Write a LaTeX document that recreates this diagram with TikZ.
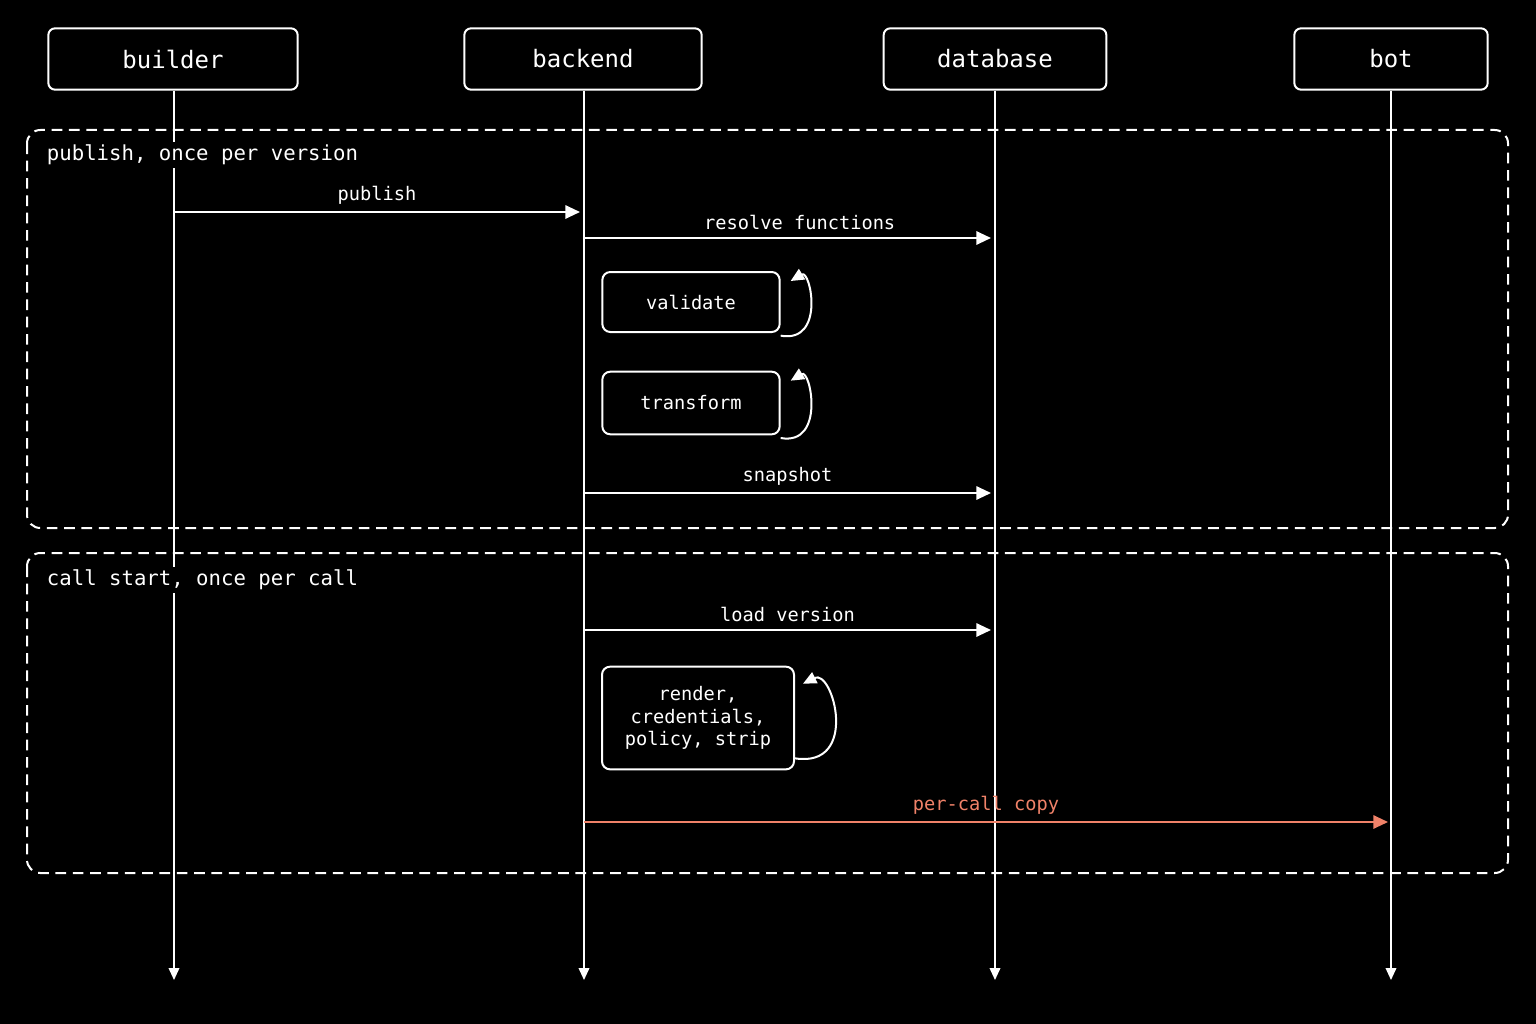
\documentclass[tikz,border=0pt]{standalone}
\usepackage{fontspec}
\setmonofont{DejaVu Sans Mono}
\usetikzlibrary{arrows.meta,calc}
\definecolor{salmon}{RGB}{240,130,105}
\begin{document}
\begin{tikzpicture}[x=0.75pt,y=-0.75pt,
  every node/.style={text=white,font=\ttfamily},
  actor/.style={draw=white,line width=1.5pt,rounded corners=5pt,minimum height=46pt,font=\ttfamily\fontsize{18}{20}\selectfont},
  life/.style={draw=white,line width=1.2pt,-{Triangle[length=9pt,width=8pt]}},
  msg/.style={draw=white,line width=1.5pt,-{Triangle[length=11pt,width=10pt]}},
  mlab/.style={font=\ttfamily\fontsize{14}{16}\selectfont,anchor=south},
  grp/.style={draw=white,line width=1.5pt,dashed,dash pattern=on 8pt off 5pt,rounded corners=10pt},
  glab/.style={font=\ttfamily\fontsize{15.5}{18}\selectfont,anchor=west,fill=black,inner sep=2pt},
  act/.style={draw=white,fill=black,line width=1.5pt,rounded corners=6pt,align=center,font=\ttfamily\fontsize{14}{17}\selectfont},
  loopa/.style={draw=white,line width=1.5pt,-{Triangle[length=10pt,width=9pt]}}]
\fill[black] (0,0) rectangle (1536,1024);
\node[actor,minimum width=187pt] (builder) at (173,59) {builder};
\node[actor,minimum width=178pt] (backend) at (583,59) {backend};
\node[actor,minimum width=167pt] (database) at (995,59) {database};
\node[actor,minimum width=145pt] (bot) at (1391,59) {bot};
\coordinate (eb) at (174,980);
\coordinate (ek) at (584,980);
\coordinate (ed) at (995,980);
\coordinate (eo) at (1391,980);
\draw[life] (builder.south -| eb) -- (eb);
\draw[life] (backend.south -| ek) -- (ek);
\draw[life] (database.south -| ed) -- (ed);
\draw[life] (bot.south -| eo) -- (eo);
\draw[grp] (27,130) rectangle (1508,528);
\draw[grp] (27,553) rectangle (1508,873);
\node[glab] (g1) at (44,155) {publish, once per version};
\node[glab] (g2) at (44,580) {call start, once per call};
\coordinate (p1) at (174,212); \coordinate (p2) at (580,212);
\draw[msg] (p1) -- (p2) node[mlab,midway,above=2pt] {publish};
\coordinate (r1) at (584,238); \coordinate (r2) at (991,238);
\draw[msg] (r1) -- (r2) node[mlab,pos=0.53,above=2pt] {resolve functions};
\node[act,minimum width=133pt,minimum height=45pt] (val) at (691,302) {validate};
\draw[loopa] ($(val.south east)+(0,-2pt)$) .. controls +(45,8) and +(20,-12) .. ($(val.north east)+(10,10)$);
\node[act,minimum width=133pt,minimum height=47pt] (tr) at (691,403) {transform};
\draw[loopa] ($(tr.south east)+(0,-2pt)$) .. controls +(45,8) and +(20,-12) .. ($(tr.north east)+(10,10)$);
\coordinate (s1) at (584,493); \coordinate (s2) at (991,493);
\draw[msg] (s1) -- (s2) node[mlab,midway,above=2pt] {snapshot};
\coordinate (l1) at (584,630); \coordinate (l2) at (991,630);
\draw[msg] (l1) -- (l2) node[mlab,midway,above=2pt] {load version};
\node[act,minimum width=144pt,minimum height=77pt] (rd) at (698,718) {render,\\credentials,\\policy, strip};
\draw[loopa] ($(rd.south east)+(0,-12)$) .. controls +(65,10) and +(30,-15) .. ($(rd.north east)+(8,18)$);
\coordinate (c1) at (584,822); \coordinate (c2) at (1388,822);
\draw[msg,draw=salmon,-{Triangle[length=11pt,width=10pt,fill=salmon]}] (c1) -- (c2) node[mlab,text=salmon,midway,above=2pt] {per-call copy};
\end{tikzpicture}
\end{document}
